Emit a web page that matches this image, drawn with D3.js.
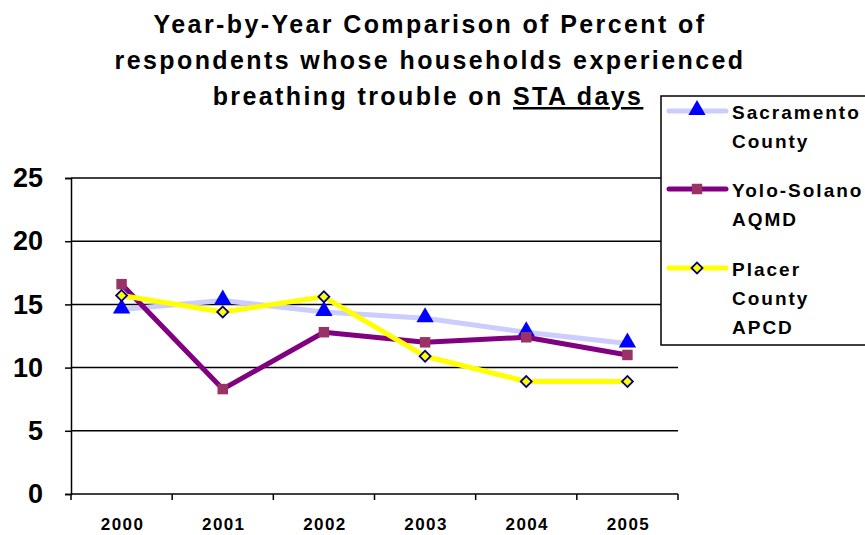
<!DOCTYPE html>
<html>
<head>
<meta charset="utf-8">
<script src="https://cdn.jsdelivr.net/npm/d3@7"></script>
<style>
  body { margin: 0; background: #fff; }
  text { font-family: Arial, "Liberation Sans", sans-serif; font-weight: bold; fill: #000; }
</style>
</head>
<body>
<svg id="chart" width="865" height="535"></svg>
<script>
// Chart values
const years = ["2000", "2001", "2002", "2003", "2004", "2005"]
const sacramento = [14.6, 15.3, 14.4, 13.9, 12.8, 11.9]
const yoloSolano = [16.6, 8.3, 12.8, 12.0, 12.4, 11.0]
const placer = [15.7, 14.4, 15.6, 10.9, 8.9, 8.9]
const yTicks = [0, 5, 10, 15, 20, 25]
const titleLines = ["Year-by-Year Comparison of Percent of", "respondents whose households experienced"]

const series = [
    {name: ["Sacramento", "County"], values: sacramento, line: "#ccccff", marker: "triangle"},
    {name: ["Yolo-Solano", "AQMD"], values: yoloSolano, line: "#800080", marker: "square"},
    {name: ["Placer", "County", "APCD"], values: placer, line: "#ffff00", marker: "diamond"}
]

const svg = d3.select("#chart")
const plotLeft = 71, plotRight = 678, plotTop = 178, plotBottom = 494

var x = d3.scaleBand().domain(years).range([plotLeft, plotRight])
var y = d3.scaleLinear().domain([0, 25]).range([plotBottom, plotTop])

// Title
var title = svg.append("g").attr("text-anchor", "middle").style("font-size", "25px").style("letter-spacing", "2.4px")
titleLines.forEach(function(t, i) {
    title.append("text").attr("x", 430).attr("y", 33 + i * 36).text(t)
})
var last = title.append("text").attr("x", 428).attr("y", 105)
last.append("tspan").text("breathing trouble on ")
last.append("tspan").style("text-decoration", "underline").text("STA days")

// Gridlines
svg.append("g").selectAll("line")
    .data(yTicks.filter(d => d > 0))
    .enter().append("line")
    .attr("x1", plotLeft).attr("x2", plotRight)
    .attr("y1", d => y(d)).attr("y2", d => y(d))
    .attr("stroke", "#000").attr("stroke-width", 1.5)

// Y axis
var yAxis = svg.append("g").attr("transform", "translate(" + plotLeft + ",0)")
    .call(d3.axisLeft(y).tickValues(yTicks).tickSize(6).tickPadding(22))
yAxis.select(".domain").attr("stroke-width", 1.5)
yAxis.selectAll(".tick line").attr("stroke-width", 1.5)
yAxis.selectAll("text").style("font-size", "27px").style("font-family", "Arial, 'Liberation Sans', sans-serif")

// X axis: ticks between categories
var xAxis = svg.append("g").attr("transform", "translate(0," + plotBottom + ")")
xAxis.append("line").attr("x1", plotLeft).attr("x2", plotRight).attr("stroke", "#000").attr("stroke-width", 1.5)
var bounds = years.map(d => x(d)).concat([plotRight])
xAxis.selectAll(".tk").data(bounds).enter().append("line")
    .attr("x1", d => d).attr("x2", d => d).attr("y1", 0).attr("y2", 6)
    .attr("stroke", "#000").attr("stroke-width", 1.5)
xAxis.selectAll(".lbl").data(years).enter().append("text")
    .attr("x", d => x(d) + x.bandwidth() / 2 + 1).attr("y", 36)
    .attr("text-anchor", "middle").style("font-size", "17px").style("letter-spacing", "1.4px")
    .text(d => d)

const triangle = d3.symbol().type(d3.symbolTriangle).size(130)
const square = d3.symbol().type(d3.symbolSquare).size(110)
// diamond = square turned 45 degrees, like the spreadsheet marker
const diamond = d3.symbol().type(d3.symbolSquare).size(60)

function drawMarker(g, kind, px, py) {
    if (kind == "triangle") {
        g.append("path").attr("d", triangle).attr("transform", "translate(" + px + "," + (py - 1) + ")").attr("fill", "#0000ff")
    } else if (kind == "square") {
        g.append("path").attr("d", square).attr("transform", "translate(" + px + "," + py + ")").attr("fill", "#993366")
    } else {
        g.append("path").attr("d", diamond).attr("transform", "translate(" + px + "," + py + ") rotate(45)")
            .attr("fill", "#ffff00").attr("stroke", "#000080").attr("stroke-width", 1.8)
    }
}

var line = d3.line().x((d, i) => x(years[i]) + x.bandwidth() / 2).y(d => y(d))

series.forEach(function(s) {
    var g = svg.append("g")
    g.append("path").datum(s.values).attr("d", line)
        .attr("fill", "none").attr("stroke", s.line).attr("stroke-width", 5).attr("stroke-linejoin", "round")
    s.values.forEach(function(v, i) {
        drawMarker(g, s.marker, x(years[i]) + x.bandwidth() / 2, y(v))
    })
})

// Legend
var legend = svg.append("g")
legend.append("rect").attr("x", 661).attr("y", 96).attr("width", 220).attr("height", 249)
    .attr("fill", "#fff").attr("stroke", "#000").attr("stroke-width", 1.5)
var legendY = [111, 189, 268]
series.forEach(function(s, i) {
    var g = legend.append("g")
    g.append("line").attr("x1", 669).attr("x2", 726).attr("y1", legendY[i]).attr("y2", legendY[i])
        .attr("stroke", s.line).attr("stroke-width", 5).attr("stroke-linecap", "round")
    drawMarker(g, s.marker, 697, legendY[i])
    s.name.forEach(function(n, j) {
        g.append("text").attr("x", 732).attr("y", legendY[i] + 8 + j * 29)
            .style("font-size", "19px").style("letter-spacing", "2px").text(n)
    })
})
</script>
</body>
</html>
